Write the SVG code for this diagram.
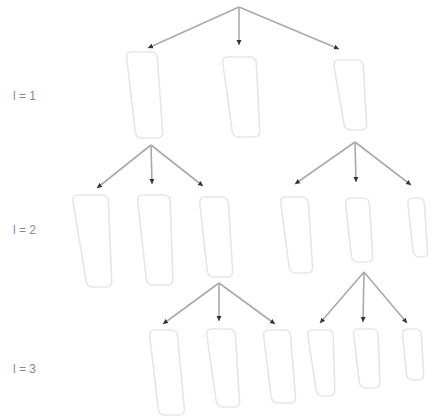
<svg xmlns="http://www.w3.org/2000/svg" width="432" height="419" viewBox="0 0 432 419">
<style>
.node path{fill:none;stroke:#e6e6e6;stroke-width:1.6}
.edges line{stroke:#aaaaaa;stroke-width:1.6;marker-end:url(#ah)}
.lbl{font-family:"Liberation Sans",Arial,sans-serif;font-size:12px;fill:#888}
</style>
<defs>
<marker id="ah" markerUnits="userSpaceOnUse" markerWidth="6" markerHeight="6" refX="5" refY="3" orient="auto">
<path d="M0,0.5 L5,3 L0,5.5 z" fill="#333"/>
</marker>
</defs>
<rect width="432" height="419" fill="#fff"/>
<text class="lbl" x="13" y="100">l = 1</text>
<text class="lbl" x="13" y="234">l = 2</text>
<text class="lbl" x="13" y="373">l = 3</text>
<g class="edges">
<line x1="239" y1="7" x2="148" y2="48"/>
<line x1="239" y1="7" x2="239" y2="45"/>
<line x1="239" y1="7" x2="339" y2="49"/>
<line x1="151" y1="145" x2="97" y2="188"/>
<line x1="151" y1="145" x2="152" y2="184"/>
<line x1="151" y1="145" x2="203" y2="186"/>
<line x1="355" y1="142" x2="295" y2="184"/>
<line x1="355" y1="142" x2="356" y2="182"/>
<line x1="355" y1="142" x2="411" y2="185"/>
<line x1="219" y1="283" x2="163" y2="324"/>
<line x1="219" y1="283" x2="219" y2="321"/>
<line x1="219" y1="283" x2="275" y2="324"/>
<line x1="364" y1="272" x2="320" y2="323"/>
<line x1="364" y1="272" x2="363" y2="322"/>
<line x1="364" y1="272" x2="407" y2="323"/>
</g>
<g id="nA" class="node"><path d="M132,52 L151,52 Q157,52 157.4,58 L162.6,132 Q163,138 157,138 L142,138 Q136,138 135.3,132 L126.7,58 Q126,52 132,52 Z"/></g>
<g id="nB" class="node"><path d="M228,57 L250,57 Q256,57 256.3,63 L259.7,131 Q260,137 254,137 L239,137 Q233,137 232.2,131 L222.8,63 Q222,57 228,57 Z"/></g>
<g id="nC" class="node"><path d="M339,60 L357,60 Q363,60 363.3,66 L366.7,124 Q367,130 361,130 L351,130 Q345,130 344,124 L334,66 Q333,60 339,60 Z"/></g>
<g id="nD" class="node"><path d="M78,195 L102,195 Q108,195 108.3,201 L111.7,281 Q112,287 106,287 L93,287 Q87,287 86,281 L73,201 Q72,195 78,195 Z"/></g>
<g id="nE" class="node"><path d="M143,195 L164,195 Q170,195 170.2,201 L172.8,279 Q173,285 167,285 L153,285 Q147,285 146.3,279 L137.7,201 Q137,195 143,195 Z"/></g>
<g id="nF" class="node"><path d="M205,197 L222,197 Q228,197 228.4,203 L232.6,271 Q233,277 227,277 L214,277 Q208,277 207.3,271 L199.7,203 Q199,197 205,197 Z"/></g>
<g id="nG" class="node"><path d="M286,197 L302,197 Q308,197 308.4,203 L312.6,267 Q313,273 307,273 L296,273 Q290,273 289.2,267 L280.8,203 Q280,197 286,197 Z"/></g>
<g id="nH" class="node"><path d="M351,198 L363,198 Q369,198 369.4,204 L372.6,256 Q373,262 367,262 L358,262 Q352,262 351.3,256 L345.7,204 Q345,198 351,198 Z"/></g>
<g id="nI" class="node"><path d="M413,198 L418,198 Q424,198 424.4,204 L427.6,251 Q428,257 422,257 L420,257 Q414,257 413.1,251 L407.9,204 Q407,198 413,198 Z"/></g>
<g id="nJ" class="node"><path d="M155,330 L171,330 Q177,330 177.6,336 L184.4,409 Q185,415 179,415 L165,415 Q159,415 158.3,409 L149.7,336 Q149,330 155,330 Z"/></g>
<g id="nK" class="node"><path d="M212,329 L229,329 Q235,329 235.4,335 L239.6,401 Q240,407 234,407 L223,407 Q217,407 216.2,401 L206.8,335 Q206,329 212,329 Z"/></g>
<g id="nL" class="node"><path d="M269,330 L284,330 Q290,330 290.5,336 L295.5,397 Q296,403 290,403 L278,403 Q272,403 271.3,397 L263.7,336 Q263,330 269,330 Z"/></g>
<g id="nM" class="node"><path d="M313,330 L327,330 Q333,330 333.2,336 L334.8,390 Q335,396 329,396 L323,396 Q317,396 316.1,390 L307.9,336 Q307,330 313,330 Z"/></g>
<g id="nN" class="node"><path d="M359,329 L372,329 Q378,329 378.2,335 L379.8,382 Q380,388 374,388 L366,388 Q360,388 359.3,382 L353.7,335 Q353,329 359,329 Z"/></g>
<g id="nO" class="node"><path d="M408,329 L415,329 Q421,329 421.4,335 L423.6,374 Q424,380 418,380 L413,380 Q407,380 406.4,374 L402.6,335 Q402,329 408,329 Z"/></g>
</svg>
